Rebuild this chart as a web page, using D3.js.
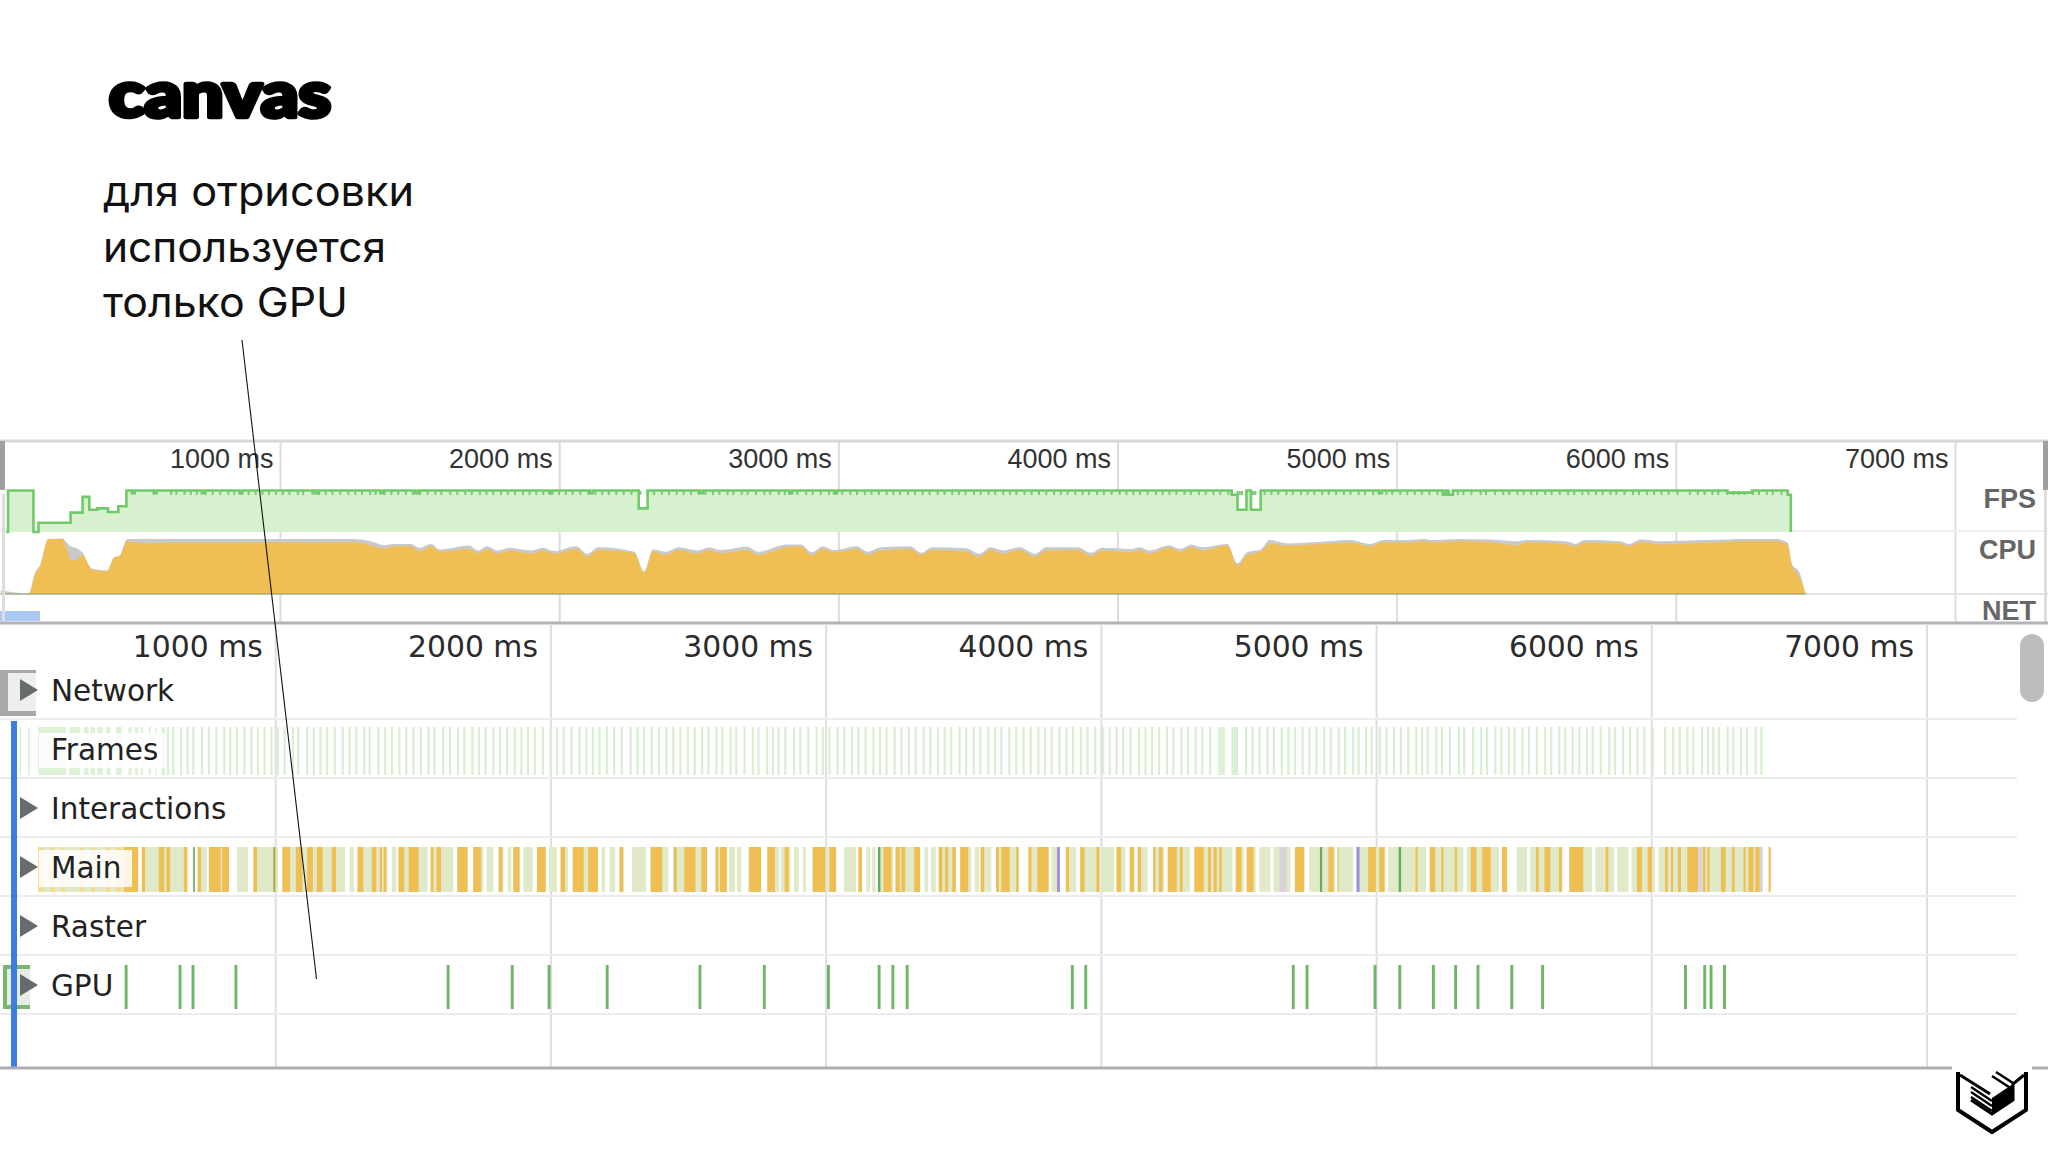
<!DOCTYPE html>
<html>
<head>
<meta charset="utf-8">
<script src="https://cdn.jsdelivr.net/npm/d3@7"></script>
<style>
html, body { margin: 0; padding: 0; background: #fff; }
svg { display: block; }
.axis path { display: none; }
</style>
</head>
<body>
<svg id="mainVis" width="2048" height="1152"></svg>
<script>
var tickValues = [1000, 2000, 3000, 4000, 5000, 6000, 7000];
var overviewLabels = ["FPS", "CPU", "NET"];
var rowLabels = ["Network", "Frames", "Interactions", "Main", "Raster", "GPU"];
var subtitleLines = ["для отрисовки", "используется", "только GPU"];
var subtitleWidths = [311, 283, 245];

// fps steps: time in ms, value in frames per second
var fpsTimes = [20, 26, 117, 135, 250, 293, 317, 346, 384, 421, 450, 470, 480, 548, 558, 720, 730, 855, 865, 1125, 1135, 1360, 1370, 1485, 1495, 1965, 1975, 2110, 2120, 2285, 2317, 2505, 2515, 2825, 2835, 2985, 2995, 4409, 4430, 4462, 4478, 4513, 4937, 4947, 5165, 5175, 5185, 5201, 6185, 6273, 6401, 6412];
var fpsValues = [0, 58, 0, 13, 27, 49, 31, 33, 28, 36, 58, 54, 58, 54, 58, 54, 58, 54, 58, 54, 58, 54, 58, 54, 58, 54, 58, 54, 58, 33, 58, 54, 58, 54, 58, 54, 58, 52, 31, 58, 31, 58, 54, 58, 52, 58, 52, 58, 55, 58, 52, 0];

// cpu: time in ms, scripting share and total share in percent of the lane
var cpuTimes = [0, 101, 122, 141, 170, 221, 237, 250, 269, 293, 325, 381, 405, 426, 453, 509, 637, 797, 957, 1117, 1261, 1325, 1373, 1405, 1469, 1501, 1541, 1573, 1677, 1709, 1741, 1781, 1821, 1901, 1941, 1981, 2061, 2101, 2141, 2269, 2304, 2336, 2381, 2429, 2497, 2537, 2577, 2673, 2713, 2817, 2865, 2905, 2945, 2985, 3065, 3105, 3153, 3257, 3297, 3337, 3457, 3505, 3545, 3593, 3649, 3705, 3745, 3857, 3905, 3945, 4049, 4081, 4113, 4185, 4225, 4265, 4305, 4393, 4430, 4465, 4513, 4545, 4609, 4705, 4833, 4905, 4953, 5033, 5097, 5129, 5225, 5337, 5433, 5465, 5609, 5641, 5673, 5801, 5833, 5873, 5945, 6105, 6265, 6361, 6401, 6417, 6441, 6465];
var cpuScripting = [0, 0, 35, 50, 100, 100, 81, 62, 62, 71, 44, 41, 66, 69, 96, 92, 93, 93, 94, 93, 94, 88, 82, 87, 87, 77, 87, 77, 82, 74, 82, 73, 79, 73, 79, 73, 82, 68, 80, 74, 39, 77, 71, 80, 73, 80, 74, 80, 71, 85, 87, 70, 82, 76, 82, 71, 79, 82, 71, 80, 77, 67, 80, 73, 80, 67, 79, 80, 69, 79, 76, 80, 73, 84, 77, 85, 79, 88, 51, 71, 77, 91, 88, 90, 93, 87, 94, 93, 96, 94, 96, 94, 88, 94, 90, 87, 93, 92, 87, 94, 90, 93, 96, 96, 87, 50, 32, 0];
var cpuTotal = [7, 1, 38, 53, 100, 101, 93, 87, 84, 75, 47, 43, 66, 70, 100, 100, 100, 100, 100, 100, 100, 96, 89, 91, 91, 84, 91, 81, 88, 79, 87, 79, 84, 79, 84, 78, 87, 73, 85, 77, 41, 81, 77, 85, 79, 85, 80, 86, 77, 90, 90, 76, 87, 80, 87, 77, 85, 87, 75, 85, 83, 73, 85, 79, 85, 73, 85, 85, 75, 84, 82, 85, 79, 88, 82, 90, 85, 91, 56, 76, 81, 98, 92, 94, 98, 91, 98, 98, 100, 98, 100, 99, 96, 98, 96, 91, 98, 96, 91, 99, 96, 98, 100, 100, 93, 53, 41, 0];

// frame marks, ms
var frameSpansEarly = [[70, 76], [102, 108], [139, 240], [252, 291], [305, 321], [329, 345], [353, 373], [386, 402], [421, 442], [467, 478], [491, 502], [512, 520], [540, 548], [564, 569], [588, 600]];
var frameTimes = [610, 629, 658, 681, 702, 734, 759, 786, 815, 836, 861, 888, 913, 937, 961, 986, 1010, 1034, 1064, 1083, 1116, 1140, 1164, 1188, 1216, 1245, 1270, 1294, 1323, 1343, 1375, 1399, 1424, 1451, 1476, 1502, 1529, 1557, 1578, 1610, 1635, 1664, 1687, 1716, 1740, 1764, 1792, 1816, 1842, 1870, 1894, 1918, 1943, 1972, 2000, 2024, 2048, 2076, 2105, 2130, 2154, 2178, 2205, 2231, 2259, 2291, 2316, 2340, 2368, 2394, 2421, 2446,
	2472, 2499, 2524, 2551, 2574, 2603, 2624, 2654, 2675, 2705, 2735, 2756, 2787, 2808, 2829, 2853, 2885, 2908, 2937, 2967, 2989, 3014, 3043, 3067, 3095, 3119, 3145, 3173, 3197, 3221, 3250, 3275, 3302, 3327, 3356, 3380, 3408, 3432, 3456, 3486, 3510, 3538, 3562, 3591, 3615, 3638, 3667, 3692, 3719, 3745, 3773, 3797, 3821, 3849, 3875, 3898, 3927, 3951, 3979, 4008, 4032, 4057, 4081, 4108, 4138, 4162, 4186, 4211, 4240, 4263, 4292, 4316, 4344, 4368, 4397, 4430, 4438, 4446, 4478, 4486, 4494, 4527, 4551, 4576, 4605, 4628, 4657, 4681, 4705, 4733, 4757, 4783, 4811, 4835, 4864, 4887, 4916,
	4936, 4963, 4984, 5013, 5038, 5065, 5090, 5117, 5146, 5167, 5187, 5219, 5239, 5268, 5301, 5320, 5352, 5382, 5403, 5433, 5455, 5482, 5503, 5532, 5555, 5584, 5614, 5636, 5665, 5687, 5714, 5738, 5766, 5787, 5816, 5847, 5868, 5897, 5922, 5949, 5974, 6006, 6050, 6079, 6103, 6131, 6152, 6184, 6206, 6225, 6246, 6277, 6298, 6326, 6347, 6379, 6400];

// main thread tasks [start, end] in ms
var mainIdle = [[139, 483], [519, 677], [718, 751], [759, 832], [861, 901], [921, 1010], [1026, 1254], [1270, 1286], [1299, 1407], [1424, 1440], [1448, 1553], [1565, 1647], [1662, 1699], [1719, 1756], [1768, 1793], [1810, 1829], [1845, 1858], [1865, 1888], [1902, 1935], [1951, 1983], [1995, 2024], [2037, 2064], [2081, 2173], [2186, 2199], [2215, 2235], [2251, 2267], [2296, 2348], [2364, 2429], [2445, 2569],
	[2600, 2641], [2649, 2670], [2678, 2694], [2718, 2767], [2788, 2832], [2837, 2872], [2885, 2902], [2918, 2929], [2950, 3038], [3067, 3111], [3119, 3132], [3148, 3161], [3169, 3181], [3190, 3246], [3254, 3343], [3359, 3372], [3383, 3400], [3411, 3473], [3489, 3529], [3542, 3557], [3563, 3602], [3619, 3703], [3737, 3810], [3821, 3851], [3873, 3911], [3925, 3995], [4000, 4048], [4057, 4089], [4105, 4121], [4134, 4170], [4190, 4230], [4243, 4324], [4340, 4478], [4490, 4519], [4530, 4563], [4576, 4616], [4627, 4689], [4705, 4741], [4757, 4851], [4860, 4916], [4929, 5033],
	[5044, 5182], [5195, 5317], [5330, 5446], [5458, 5476], [5511, 5549], [5560, 5678], [5701, 5785], [5797, 5865], [5876, 5917], [5928, 6014], [6026, 6403]];
var mainScriptingEarly = [[139, 158], [183, 199], [223, 236], [288, 304], [332, 345], [385, 402], [421, 442]];
var mainScripting = [[450, 502], [515, 527], [577, 597], [605, 618], [668, 681], [718, 730], [759, 802], [807, 832], [921, 934], [994, 1002], [1026, 1054], [1075, 1099], [1116, 1137], [1151, 1172], [1205, 1221], [1299, 1320], [1351, 1367], [1380, 1388], [1394, 1404], [1448, 1469], [1485, 1521], [1565, 1575], [1586, 1602], [1662, 1699], [1719, 1748], [1813, 1826], [1865, 1888], [1951, 1983], [2037, 2053], [2081, 2121], [2137, 2173], [2251, 2264], [2364, 2406], [2449, 2459], [2486, 2527], [2548, 2569], [2600, 2610], [2616, 2641], [2723, 2765], [2788, 2816], [2851, 2866], [2954, 2999], [3014, 3038], [3119, 3132], [3210, 3239], [3254, 3270], [3275, 3289], [3322, 3343], [3411, 3424], [3434, 3445], [3460, 3473], [3489, 3518], [3563, 3576], [3619, 3630], [3638, 3669], [3692, 3701], [3737, 3748], [3769, 3810], [3873, 3885], [3925, 3941], [3984, 3995], [4057, 4073], [4105, 4121], [4134, 4146], [4190, 4198], [4211, 4224], [4243, 4276], [4287, 4297], [4340, 4374], [4389, 4400], [4410, 4421], [4430, 4439], [4490, 4511], [4530, 4555], [4705, 4738], [4827, 4846], [4860, 4864], [4971, 4999], [5012, 5031], [5143, 5151], [5195, 5215], [5237, 5245], [5286, 5294], [5344, 5365], [5386, 5417], [5458, 5476], [5581, 5591], [5612, 5633], [5665, 5675], [5703, 5753], [5834, 5844], [5948, 5966], [5987, 6003], [6050, 6060], [6071, 6079], [6097, 6108], [6131, 6170], [6188, 6197], [6204, 6212], [6253, 6270], [6293, 6303], [6335, 6343], [6353, 6371], [6378, 6394], [6426, 6434]];
var mainPainting = [[702, 708], [994, 998], [3190, 3199], [4796, 4804], [5082, 5091]];
var mainRendering = [[3841, 3851], [4929, 4940]];
var mainRenderingPale = [[4649, 4676], [6170, 6186], [6395, 6405]];

var gpuTimes = [458, 654, 701, 857, 1628, 1861, 1995, 2206, 2543, 2777, 3010, 3194, 3244, 3296, 3896, 3945, 4699, 4749, 4996, 5086, 5208, 5289, 5370, 5493, 5605, 6124, 6194, 6217, 6266];

var W = 2048, H = 1152;
var svg = d3.select('#mainVis');
var sansHead = 'Liberation Sans';
var sansRow = 'DejaVu Sans';

// overview scales
var xOver = d3.scaleLinear().domain([0, 7000]).range([0.8, 1955]);
var yFps = d3.scaleLinear().domain([0, 60]).range([532, 489]);
var yCpu = d3.scaleLinear().domain([0, 100]).range([594, 539]);
// flame chart scale
var xMain = d3.scaleLinear().domain([0, 7000]).range([0, 1926.5]);

// ---- title block
svg.append('text').attr('x', 109).attr('y', 117)
	.attr('font-family', 'Lato').attr('font-weight', 900).attr('font-size', 62)
	.attr('stroke', '#000').attr('stroke-width', 4.5).attr('stroke-linejoin', 'round')
	.attr('textLength', 222).attr('lengthAdjust', 'spacingAndGlyphs')
	.text('canvas');
svg.selectAll('.sub').data(subtitleLines).enter().append('text')
	.attr('class', 'sub')
	.attr('x', 103)
	.attr('y', function(d, i) { return 206 + i * 55.5; })
	.attr('font-family', 'Inter').attr('font-size', 41).attr('fill', '#111')
	.attr('textLength', function(d, i) { return subtitleWidths[i]; })
	.attr('lengthAdjust', 'spacingAndGlyphs')
	.text(function(d) { return d; });

// ---- overview
var over = svg.append('g');
over.append('g').attr('class', 'axis').attr('transform', 'translate(0,442)')
	.call(d3.axisBottom(xOver).tickValues(tickValues).tickSize(180).tickFormat(function(d) { return d + ' ms'; }))
	.call(function(g) {
		g.selectAll('line').attr('stroke', '#dcdcdf').attr('stroke-width', 2);
		g.selectAll('text').attr('text-anchor', 'end').attr('x', -7).attr('y', 26).attr('dy', 0)
			.attr('fill', '#333').attr('font-family', sansHead).attr('font-size', 27);
	});
over.append('line').attr('x1', 0).attr('x2', W).attr('y1', 441).attr('y2', 441).attr('stroke', '#d8d8d8').attr('stroke-width', 3);
over.append('line').attr('x1', 0).attr('x2', W).attr('y1', 531).attr('y2', 531).attr('stroke', '#eeeeee').attr('stroke-width', 2);
over.append('line').attr('x1', 0).attr('x2', W).attr('y1', 594).attr('y2', 594).attr('stroke', '#e4e4e4').attr('stroke-width', 2);

var fpsPoints = fpsTimes.map(function(t, i) { return {t: t, v: fpsValues[i]}; });
over.append('path').datum(fpsPoints)
	.attr('fill', '#d6f0d0')
	.attr('d', d3.area().curve(d3.curveStepAfter).x(function(d) { return xOver(d.t); }).y0(yFps(0)).y1(function(d) { return yFps(d.v); }));
over.selectAll('.comb').data(frameTimes).enter().append('line')
	.attr('class', 'comb')
	.attr('x1', function(d) { return xOver(d); }).attr('x2', function(d) { return xOver(d); })
	.attr('y1', 491).attr('y2', 495)
	.attr('stroke', '#78cc70').attr('stroke-width', 2);
over.append('path').datum(fpsPoints)
	.attr('fill', 'none').attr('stroke', '#6fca68').attr('stroke-width', 2.6)
	.attr('d', d3.line().curve(d3.curveStepAfter).x(function(d) { return xOver(d.t); }).y(function(d) { return yFps(d.v); }));

var cpuPoints = cpuTimes.map(function(t, i) { return {t: t, s: cpuScripting[i], a: cpuTotal[i]}; });
over.append('path').datum(cpuPoints).attr('fill', '#c9c9c9')
	.attr('d', d3.area().curve(d3.curveMonotoneX).x(function(d) { return xOver(d.t); }).y0(yCpu(0)).y1(function(d) { return yCpu(d.a); }));
over.append('path').datum(cpuPoints).attr('fill', '#f0bf53')
	.attr('d', d3.area().curve(d3.curveMonotoneX).x(function(d) { return xOver(d.t); }).y0(yCpu(0)).y1(function(d) { return yCpu(d.s); }));
over.append('line').attr('x1', xOver(0)).attr('x2', xOver(6465)).attr('y1', 594).attr('y2', 594).attr('stroke', '#8f9a70').attr('stroke-width', 1);

// net request
over.append('rect').attr('x', 0).attr('y', 611).attr('width', xOver(140)).attr('height', 10).attr('fill', '#a9c8f2');

over.selectAll('.ovlabel').data(overviewLabels).enter().append('text')
	.attr('class', 'ovlabel')
	.attr('x', 2036)
	.attr('y', function(d, i) { return [508, 559, 620][i]; })
	.attr('text-anchor', 'end').attr('font-family', sansHead).attr('font-weight', 700)
	.attr('font-size', 27).attr('fill', '#666')
	.text(function(d) { return d; });
over.append('rect').attr('x', 0).attr('y', 441).attr('width', 5).attr('height', 49).attr('fill', '#a0a0a0');
over.append('rect').attr('x', 2043).attr('y', 441).attr('width', 5).attr('height', 49).attr('fill', '#a0a0a0');
over.append('rect').attr('x', 2).attr('y', 494).attr('width', 3).attr('height', 128).attr('fill', '#dddddd');
over.append('rect').attr('x', 2044).attr('y', 490).attr('width', 3).attr('height', 132).attr('fill', '#dddddd');
over.append('line').attr('x1', 0).attr('x2', W).attr('y1', 623).attr('y2', 623).attr('stroke', '#b4b4b8').attr('stroke-width', 3);

// ---- flame chart
var rowTop = 660, rowH = 59;
var yRow = d3.scaleBand().domain(rowLabels).range([rowTop, rowTop + rowH * rowLabels.length]);
var flame = svg.append('g');

flame.append('g').attr('class', 'axis').attr('transform', 'translate(0,624)')
	.call(d3.axisBottom(xMain).tickValues(tickValues).tickSize(444).tickFormat(function(d) { return d + ' ms'; }))
	.call(function(g) {
		g.selectAll('line').attr('stroke', '#dfdfe3').attr('stroke-width', 2);
		g.selectAll('text').attr('text-anchor', 'end').attr('x', -13).attr('y', 33).attr('dy', 0)
			.attr('fill', '#2b2b2b').attr('font-family', sansRow).attr('font-size', 29.8);
	});
flame.selectAll('.rowline').data(rowLabels).enter().append('line')
	.attr('class', 'rowline')
	.attr('x1', 0).attr('x2', 2017)
	.attr('y1', function(d) { return yRow(d) + rowH; })
	.attr('y2', function(d) { return yRow(d) + rowH; })
	.attr('stroke', '#ececef').attr('stroke-width', 2);

function spans(cls, data, color, y, h) {
	flame.selectAll('.' + cls).data(data).enter().append('rect')
		.attr('class', cls)
		.attr('x', function(d) { return xMain(d[0]); })
		.attr('width', function(d) { return xMain(d[1]) - xMain(d[0]); })
		.attr('y', y).attr('height', h).attr('fill', color);
}

// Frames lane
spans('fr0', frameSpansEarly, '#dcf1d5', 727, 48);
flame.selectAll('.fr').data(frameTimes).enter().append('rect')
	.attr('class', 'fr')
	.attr('x', function(d) { return xMain(d) - 1; })
	.attr('width', 2.2)
	.attr('y', 727).attr('height', 48).attr('fill', '#d8efd1');

// Main lane
spans('mi', mainIdle, '#e0eac8', 847, 45);
spans('mse', mainScriptingEarly, '#f5d98f', 847, 45);
spans('ms', mainScripting, '#f0bf53', 847, 45);
spans('mp', mainPainting, '#66ad5c', 847, 45);
spans('mr', mainRendering, '#9c8fe2', 847, 45);
spans('mrp', mainRenderingPale, '#d9d3dc', 847, 45);

// GPU lane
flame.selectAll('.gpu').data(gpuTimes).enter().append('rect')
	.attr('class', 'gpu')
	.attr('x', function(d) { return xMain(d) - 1.4; })
	.attr('width', 2.9)
	.attr('y', 965).attr('height', 44).attr('fill', '#6eb565');

// label backdrops over the lanes
flame.append('rect').attr('x', 39).attr('y', 733).attr('width', 126).attr('height', 35).attr('fill', '#fff').attr('opacity', 0.85);
flame.append('rect').attr('x', 39).attr('y', 850).attr('width', 93).attr('height', 37).attr('fill', '#fff').attr('opacity', 0.85);

// network selection box
flame.append('rect').attr('x', 0).attr('y', 670).attr('width', 36).attr('height', 46).attr('fill', '#a8a8a8');
flame.append('rect').attr('x', 8).attr('y', 673).attr('width', 28).attr('height', 38).attr('fill', '#eeeeee');
// gpu selection bracket
flame.append('rect').attr('x', 4).attr('y', 967).attr('width', 26).attr('height', 41).attr('fill', '#e8ece6');
flame.append('path').attr('d', 'M30,967H5V1007H30').attr('fill', 'none').attr('stroke', '#78b86c').attr('stroke-width', 4);

// blue track marker
flame.append('rect').attr('x', 11).attr('y', 721).attr('width', 6).attr('height', 347).attr('fill', '#3b7de0');

flame.selectAll('.rowlabel').data(rowLabels).enter().append('text')
	.attr('class', 'rowlabel')
	.attr('x', 51)
	.attr('y', function(d) { return yRow(d) + 41; })
	.attr('font-family', sansRow).attr('font-size', 29.5).attr('fill', '#222')
	.text(function(d) { return d; });
flame.selectAll('.tri').data(rowLabels.filter(function(d) { return d !== 'Frames'; })).enter().append('path')
	.attr('class', 'tri')
	.attr('d', function(d) { var c = yRow(d) + 30; return 'M20,' + (c - 11) + 'L38,' + c + 'L20,' + (c + 11) + 'Z'; })
	.attr('fill', '#666b6b');

flame.append('line').attr('x1', 0).attr('x2', W).attr('y1', 1068).attr('y2', 1068).attr('stroke', '#adadb2').attr('stroke-width', 3);

// scrollbar
flame.append('rect').attr('x', 2020).attr('y', 634).attr('width', 24).attr('height', 68).attr('rx', 12).attr('fill', '#bdbdbd');

// annotation line
svg.append('line').attr('x1', 242).attr('y1', 340).attr('x2', 316.5).attr('y2', 979).attr('stroke', '#111').attr('stroke-width', 1.1);

// logo, drawn from the crop
var logo = svg.append('g').attr('transform', 'translate(1992,1072)');
logo.append('path').attr('d', 'M-34,0V38L0,60L34,38V0').attr('fill', 'none').attr('stroke', '#000').attr('stroke-width', 4);
logo.append('path').attr('d', 'M-32,3L-2,22M32,3L21,12V28L0,42L-21,28').attr('fill', 'none').attr('stroke', '#000').attr('stroke-width', 3);
logo.append('path').attr('d', 'M0,26L21,12V28L0,42Z').attr('fill', '#000');
logo.append('path').attr('d', 'M-21,20L0,34M-21,25L0,39M-21,15L0,29M0,4L20,17M4,0L21,11').attr('fill', 'none').attr('stroke', '#000').attr('stroke-width', 2.4);
logo.append('rect').attr('x', -40).attr('y', -6).attr('width', 80).attr('height', 5).attr('fill', '#fff');
</script>
</body>
</html>
